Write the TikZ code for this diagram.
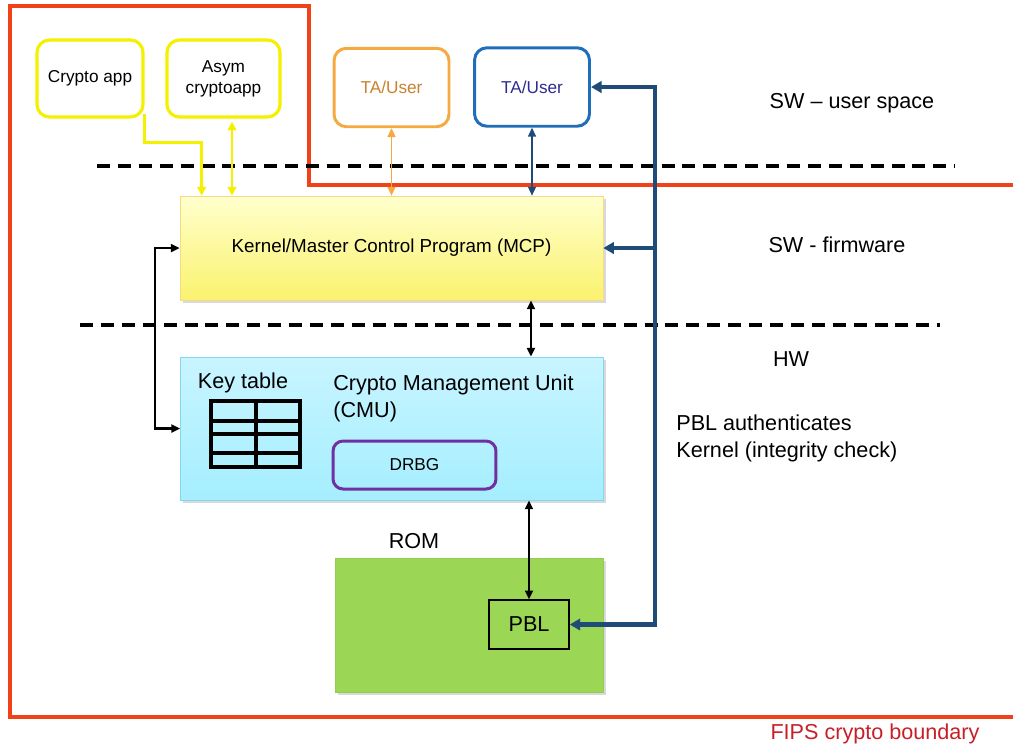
\documentclass[tikz,border=0pt]{standalone}
\usepackage{fontspec}
\setmainfont{Liberation Sans}
\usetikzlibrary{arrows.meta,shadows}
\definecolor{bndred}{RGB}{240,65,25}
\definecolor{fipsred}{RGB}{200,30,40}
\definecolor{appyel}{RGB}{245,240,0}
\definecolor{taorange}{RGB}{245,170,65}
\definecolor{taotext}{RGB}{200,130,45}
\definecolor{tablue}{RGB}{30,110,185}
\definecolor{tabtext}{RGB}{45,45,145}
\definecolor{pblblue}{RGB}{31,75,120}
\definecolor{drbgpurple}{RGB}{112,48,160}
\definecolor{romgreen}{RGB}{155,215,85}
\newcommand\lbltxt{\fontsize{12.3}{15.3}\selectfont}
\newcommand\boxtxt{\fontsize{9.8}{12}\selectfont}
\begin{document}
\begin{tikzpicture}[x=0.02cm,y=-0.02cm,
    app/.style={draw=appyel,line width=1.8pt,rounded corners=0.25cm,minimum width=2.12cm,minimum height=1.54cm,align=center,font=\boxtxt},
    tauser/.style={line width=1.7pt,rounded corners=0.25cm,minimum width=2.3cm,minimum height=1.57cm,font=\boxtxt},
    block/.style={minimum width=8.46cm,drop shadow={shadow xshift=1.5pt,shadow yshift=-1.5pt,opacity=0.3}},
    lbl/.style={font=\lbltxt,inner sep=0},
    ylink/.style={draw=appyel,line width=1.5pt,-{Triangle[length=5pt,width=5pt]}},
    dlink/.style={line width=1.2pt,{Triangle[length=5pt,width=4.5pt]}-{Triangle[length=5pt,width=4.5pt]}},
    blink/.style={draw=pblblue,line width=2.3pt,-{Triangle[length=6pt,width=6.5pt]}},
    sep/.style={line width=1.9pt,dash pattern=on 7.4pt off 4.5pt}]
\useasboundingbox (0,0) rectangle (1013,748);
\draw[bndred,line width=2.1pt] (1013,185)--(309,185)--(309,6)--(10,6)--(10,717)--(1013,717);
\draw[sep] (97,166)--(955,166);
\draw[sep] (80,325)--(940,325);
\node[app] (crypto) at (90,78.5) {Crypto app};
\node[app,minimum width=2.26cm] (asym) at (223.5,78.5) {Asym\\cryptoapp};
\node[tauser,draw=taorange,text=taotext] (taO) at (391.5,87.5) {TA/User};
\node[tauser,draw=tablue,text=tabtext] (taB) at (532,87) {TA/User};
\node[block,draw={rgb,255:red,245;green,220;blue,130},top color={rgb,255:red,255;green,255;blue,205},bottom color={rgb,255:red,250;green,242;blue,110},minimum height=2.08cm,font=\fontsize{10.7}{13}\selectfont] (mcp) at (391.5,248) {Kernel/Master Control Program (MCP)};
\node[block,draw={rgb,255:red,130;green,215;blue,235},top color={rgb,255:red,200;green,245;blue,255},bottom color={rgb,255:red,165;green,238;blue,255},minimum height=2.86cm] (cmu) at (392,428.5) {};
\node[draw=drbgpurple,line width=1.7pt,rounded corners=0.2cm,minimum width=3.26cm,minimum height=0.96cm,font=\boxtxt] (drbg) at (414.5,465) {DRBG};
\node[block,draw={rgb,255:red,145;green,205;blue,80},fill=romgreen,minimum width=5.36cm,minimum height=2.68cm] (rom) at (469,625) {};
\node[draw,line width=0.8pt,minimum width=1.6cm,minimum height=0.98cm,font=\lbltxt] (pbl) at (529,624.5) {PBL};
\node[lbl] (keylbl) at (243,383) {Key table};
\draw[line width=1.8pt] (211,401) rectangle (300,467) (256,401)--(256,467) (211,421)--(300,421) (211,434)--(300,434) (211,453)--(300,453);
\node[lbl,anchor=west,align=left] (cmulbl) at (333,398) {Crypto Management Unit\\(CMU)};
\node[lbl] (romlbl) at (414,541) {ROM};
\node[lbl] (userlbl) at (852,103) {SW – user space};
\node[lbl] (fwlbl) at (837,245) {SW - firmware};
\node[lbl] (hwlbl) at (791,359) {HW};
\node[lbl,anchor=west,align=left] (authlbl) at (676,438.5) {PBL authenticates\\Kernel (integrity check)};
\node[lbl,text=fipsred] (fipslbl) at (875,734) {FIPS crypto boundary};
\draw[ylink] ([yshift=0.1cm]crypto.south east) -- ++(0,29) -| ([xshift=0.44cm]mcp.north west);
\draw[ylink,line width=0.9pt,{Triangle[length=5pt,width=5pt]}-{Triangle[length=5pt,width=5pt]}] ([xshift=0.17cm,yshift=-0.06cm]asym.south) -- ([xshift=0.17cm]asym.south |- mcp.north);
\draw[dlink,draw=taorange,line width=1pt] (taO.south) -- (taO.south |- mcp.north);
\draw[dlink,draw=pblblue,line width=0.7pt] (taB.south) -- (taB.south |- mcp.north);
\draw[dlink] ([xshift=2.79cm]mcp.south) -- ([xshift=2.79cm]mcp.south |- cmu.north);
\draw[dlink] (pbl.north |- cmu.south) -- (pbl.north);
\draw[dlink] (mcp.west) -- ++(-25,0) |- (cmu.west);
\draw[blink,{Triangle[length=6pt,width=6.5pt]}-{Triangle[length=6pt,width=6.5pt]}] (pbl.east) -- ++(85,0) coordinate (bend) |- (taB.east);
\draw[blink] (bend |- mcp.east) -- (mcp.east);
\end{tikzpicture}
\end{document}
